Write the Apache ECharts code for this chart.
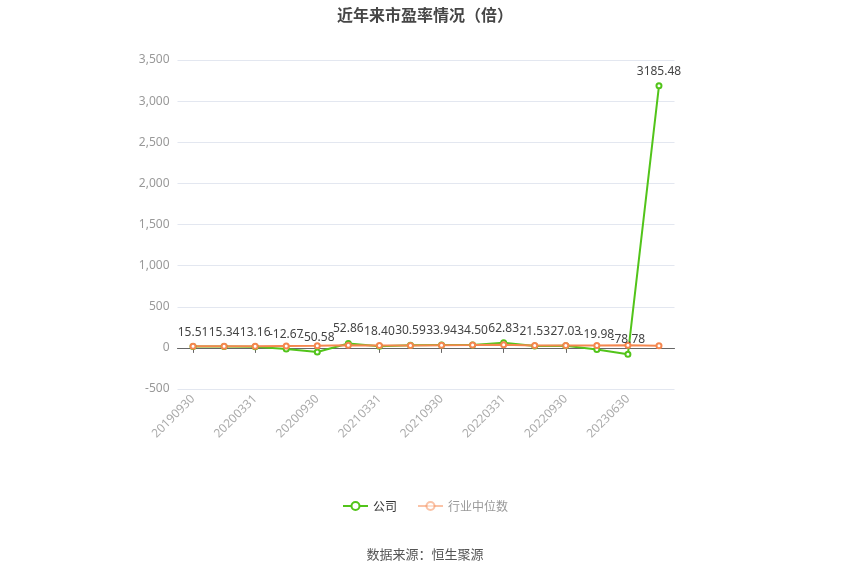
<!DOCTYPE html>
<html>
<head>
<meta charset="utf-8">
<script src="https://cdn.jsdelivr.net/npm/echarts@6/dist/echarts.min.js"></script>
<style>html,body{margin:0;padding:0;background:#fff;}#c{width:850px;height:575px;}</style>
</head>
<body>
<div id="c"></div>
<script>
var categories = ['20190930','20191231','20200331','20200630','20200930','20201231','20210331','20210630','20210930','20211231','20220331','20220630','20220930','20230331','20230630','20230930'];
var companyPE = [15.51,15.34,13.16,-12.67,-50.58,52.86,18.40,30.59,33.94,34.50,62.83,21.53,27.03,-19.98,-78.78,3185.48];
var industryPE = [20,20,20,23,26,31,28,30,33,35,38,30,30,28,31,26];
var yTicks = {min:-500, max:3500, interval:500};

var chart = echarts.init(document.getElementById('c'));
chart.setOption({
  animation:false,
  title:{text:'近年来市盈率情况（倍）', left:'center', top:2,
    textStyle:{fontSize:16, fontWeight:'bold', color:'#464646', fontFamily:'Noto Sans CJK SC'}},
  grid:{left:177.5, right:175.5, top:60, bottom:186},
  legend:{bottom:58, left:'center', itemWidth:25, itemHeight:10, itemGap:20,
    textStyle:{fontSize:12, color:'#333', fontFamily:'Noto Sans CJK SC'},
    data:[{name:'公司'},{name:'行业中位数', itemStyle:{opacity:0.5}, lineStyle:{opacity:0.5}, textStyle:{color:'#999'}}]},
  graphic:[{type:'text', left:'center', top:548,
    style:{text:'数据来源：恒生聚源', fontSize:13, fill:'#555', fontFamily:'Noto Sans CJK SC'}}],
  xAxis:{type:'category', data:categories, boundaryGap:true,
    axisLine:{onZero:true, lineStyle:{color:'#666'}},
    axisTick:{show:true, alignWithLabel:true, interval:1, lineStyle:{color:'#666'}},
    axisLabel:{rotate:45, interval:1, color:'#aaa', fontSize:12, fontFamily:'Noto Sans'}},
  yAxis:{type:'value', min:yTicks.min, max:yTicks.max, interval:yTicks.interval,
    axisLine:{show:false}, axisTick:{show:false},
    axisLabel:{color:'#999', fontSize:12, fontFamily:'Noto Sans'},
    splitLine:{lineStyle:{color:'#e3e7f0'}}},
  series:[
    {name:'公司', type:'line', data:companyPE, symbol:'emptyCircle', symbolSize:5,
      itemStyle:{color:'#52c41a'}, lineStyle:{width:2, color:'#52c41a'},
      label:{show:true, position:'top', color:'#444', fontSize:12, fontFamily:'Noto Sans',
        formatter:function(p){return p.value.toFixed(2);}}},
    {name:'行业中位数', type:'line', data:industryPE, symbol:'emptyCircle', symbolSize:5,
      itemStyle:{color:'#f5874f'}, lineStyle:{width:2, color:'#f5874f'}}
  ]
});
</script>
</body>
</html>
